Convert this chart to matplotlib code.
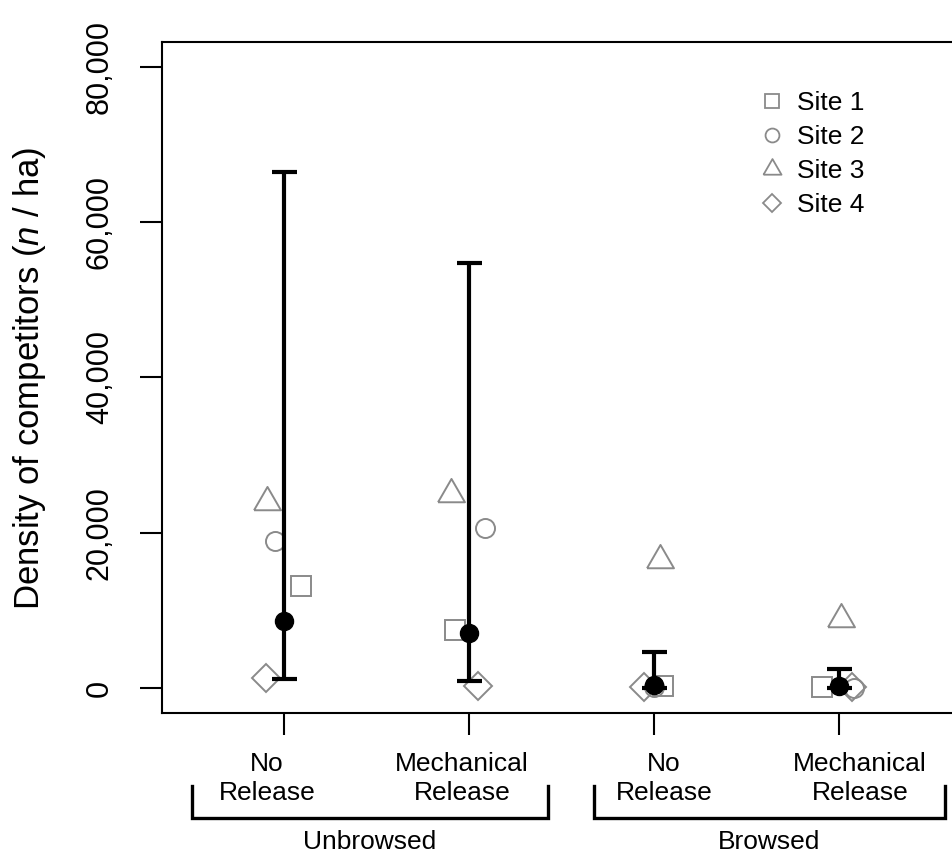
import numpy as np
import matplotlib
matplotlib.use("Agg")
import matplotlib.pyplot as plt
from matplotlib.lines import Line2D
import matplotlib.transforms as mtrans

plt.rcParams['font.family'] = ['Liberation Sans', 'DejaVu Sans']
plt.rcParams['mathtext.fontset'] = 'custom'
plt.rcParams['mathtext.it'] = 'Liberation Sans:italic'
plt.rcParams['mathtext.rm'] = 'Liberation Sans'

# --- data ---
treatments = ["No\nRelease", "Mechanical\nRelease", "No\nRelease", "Mechanical\nRelease"]
groups = ["Unbrowsed", "Browsed"]
xpos = np.array([1, 2, 3, 4])

site_names = ["Site 1", "Site 2", "Site 3", "Site 4"]
site1 = [13100, 7500, 250, 100]
site2 = [19000, 20600, 200, 50]
site3 = [23950, 24950, 16500, 8900]
site4 = [1300, 300, 100, 100]
# small horizontal jitter used in the original to separate the sites
site1_dx = [0.092, -0.076, 0.049, -0.092]
site2_dx = [-0.049, 0.087, 0.0, 0.081]
site3_dx = [-0.092, -0.097, 0.032, 0.011]
site4_dx = [-0.097, 0.049, -0.054, 0.070]

mean_val = [8600, 7050, 350, 280]
ci_low = [1150, 900, 0, 0]
ci_high = [66500, 54800, 4600, 2450]

# label/bracket placement (x in data units)
label_x = [0.908, 1.962, 3.054, 4.114]
bracket_x = [(0.502, 2.429), (2.676, 4.573)]
group_x = [1.465, 3.622]

# --- styling ---
gray = '#8a8a8a'
tri = [(-1, -0.577), (1, -0.577), (0, 1.155), (-1, -0.577)]
site_markers = ['s', 'o', tri, 'D']
site_ms = [14.4, 13.7, 22.4, 14.2]
legend_ms = [10, 10, 15, 9.6]

fig = plt.figure(figsize=(9.52, 8.55), dpi=100)
ax = fig.add_axes([0.1702, 0.1661, 0.8403, 0.7848])

sites = [site1, site2, site3, site4]
offsets = [site1_dx, site2_dx, site3_dx, site4_dx]
for vals, dx, mk, ms in zip(sites, offsets, site_markers, site_ms):
    ax.plot(xpos + np.array(dx), vals, linestyle='none', marker=mk, ms=ms,
            mfc='none', mec=gray, mew=1.4, clip_on=False, zorder=2)

mean_val = np.array(mean_val)
yerr = [mean_val - np.array(ci_low), np.array(ci_high) - mean_val]
ax.errorbar(xpos, mean_val, yerr=yerr, fmt='o', color='black', ms=13,
            elinewidth=3, capsize=9, capthick=3, zorder=3)

ax.set_xlim(0.3405, 4.665)
ax.set_ylim(-3200, 83200)
ax.set_yticks([0, 20000, 40000, 60000, 80000])
ax.set_yticklabels(['0', '20,000', '40,000', '60,000', '80,000'])
ax.set_xticks(xpos)
ax.set_xticklabels([])
ax.tick_params(axis='both', length=16, width=1.5, labelsize=22)
ax.tick_params(axis='y', labelrotation=90, pad=18)
for lab in ax.get_yticklabels():
    lab.set_va('center')

for s in ['left', 'bottom', 'top']:
    ax.spines[s].set_linewidth(1.5)
ax.spines['right'].set_visible(False)

fig.text(30 / 952, 1 - 378 / 855, r'Density of competitors ($\mathit{n}$ / ha)',
         rotation=90, ha='center', va='center', fontsize=25)

# category labels and group brackets under the axis
trans = mtrans.blended_transform_factory(ax.transData, fig.transFigure)
for lx, t in zip(label_x, treatments):
    ax.text(lx, 0.0895, t, transform=trans, ha='center', va='center',
            fontsize=19, linespacing=1.3)
for (x0, x1), gx, g in zip(bracket_x, group_x, groups):
    ax.plot([x0, x0, x1, x1], [0.0807, 0.0433, 0.0433, 0.0807], color='black',
            lw=2.4, transform=trans, clip_on=False, solid_joinstyle='miter')
    ax.text(gx, 0.0152, g, transform=trans, ha='center', va='center', fontsize=19)

handles = [Line2D([], [], linestyle='none', marker=mk, ms=ms, mfc='none',
                  mec=gray, mew=1.3)
           for mk, ms in zip(site_markers, legend_ms)]
ax.legend(handles, site_names, loc='upper left', frameon=False, fontsize=19,
          bbox_to_anchor=(759 / 952, 1 - 91 / 855), bbox_transform=fig.transFigure,
          borderaxespad=0, borderpad=0, handlelength=1.0, handletextpad=0.45,
          labelspacing=0.38)

fig.savefig('out.png', dpi=100)
